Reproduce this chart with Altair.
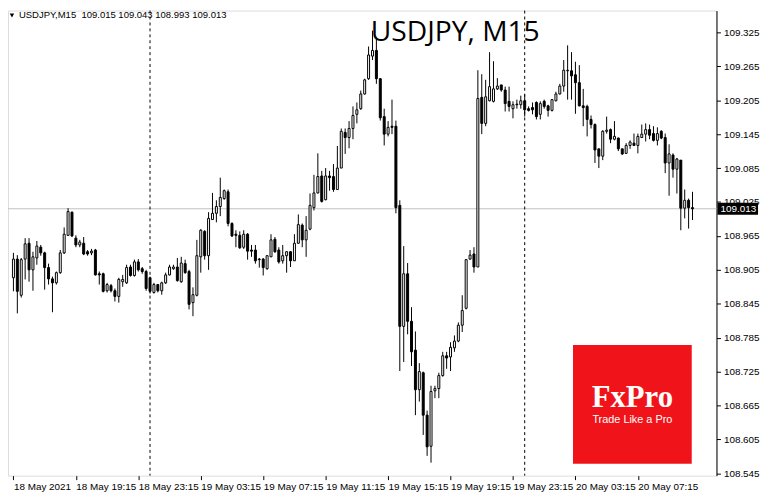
import json
import altair as alt
import pandas as pd

# ---- data: USDJPY M15 candles ----
opens = [108.891, 108.924, 108.860, 108.924, 108.952, 108.905, 108.926, 108.945, 108.935, 108.909,
         108.889, 108.882, 108.900, 108.935, 108.966, 109.007, 108.961, 108.949, 108.952, 108.937,
         108.935, 108.940, 108.898, 108.898, 108.868, 108.877, 108.868, 108.858, 108.884, 108.882,
         108.910, 108.895, 108.919, 108.907, 108.902, 108.891, 108.865, 108.879, 108.868, 108.882,
         108.896, 108.907, 108.910, 108.884, 108.916, 108.902, 108.847, 108.860, 108.928, 108.973,
         108.930, 108.994, 109.005, 109.017, 109.031, 109.043, 108.987, 108.968, 108.966, 108.945,
         108.968, 108.940, 108.940, 108.924, 108.924, 108.907, 108.928, 108.959, 108.940, 108.921,
         108.930, 108.937, 108.921, 108.952, 108.984, 108.958, 108.977, 109.015, 109.041, 109.071,
         109.029, 109.071, 109.070, 109.047, 109.085, 109.148, 109.139, 109.155, 109.180, 109.190,
         109.216, 109.243, 109.283, 109.293, 109.243, 109.176, 109.145, 109.159, 109.159, 109.019,
         108.805, 108.898, 108.814, 108.763, 108.693, 108.723, 108.648, 108.593, 108.691, 108.695,
         108.718, 108.753, 108.751, 108.767, 108.779, 108.807, 108.837, 108.924, 108.933, 108.910,
         109.210, 109.164, 109.204, 109.203, 109.225, 109.232, 109.223, 109.203, 109.190, 109.198,
         109.197, 109.204, 109.190, 109.192, 109.201, 109.180, 109.203, 109.195, 109.187, 109.204,
         109.216, 109.230, 109.257, 109.257, 109.250, 109.236, 109.195, 109.194, 109.171, 109.162,
         109.119, 109.106, 109.150, 109.153, 109.136, 109.138, 109.119, 109.111, 109.125, 109.129,
         109.125, 109.139, 109.145, 109.153, 109.146, 109.134, 109.150, 109.139, 109.094, 109.108,
         109.083, 109.099, 109.014, 109.028, 109.015]
highs = [108.935, 108.931, 108.926, 108.961, 108.961, 108.937, 108.956, 108.949, 108.937, 108.916,
         108.893, 108.902, 108.940, 108.980, 109.014, 109.008, 108.966, 108.958, 108.963, 108.940,
         108.942, 108.942, 108.902, 108.900, 108.882, 108.880, 108.872, 108.891, 108.896, 108.914,
         108.914, 108.923, 108.924, 108.910, 108.905, 108.893, 108.882, 108.880, 108.884, 108.900,
         108.914, 108.914, 108.926, 108.928, 108.923, 108.905, 108.874, 108.958, 108.977, 108.975,
         109.007, 109.041, 109.028, 109.068, 109.047, 109.047, 108.989, 108.975, 108.973, 108.975,
         108.970, 108.949, 108.949, 108.926, 108.926, 108.931, 108.968, 108.963, 108.945, 108.949,
         108.938, 108.938, 108.968, 109.003, 108.987, 109.000, 109.040, 109.073, 109.111, 109.080,
         109.085, 109.080, 109.092, 109.124, 109.155, 109.155, 109.168, 109.194, 109.201, 109.222,
         109.243, 109.300, 109.328, 109.316, 109.244, 109.190, 109.168, 109.206, 109.169, 109.028,
         108.947, 108.917, 108.839, 108.796, 108.740, 108.725, 108.656, 108.700, 108.700, 108.723,
         108.760, 108.760, 108.777, 108.789, 108.812, 108.860, 108.924, 108.940, 108.945, 109.258,
         109.251, 109.241, 109.290, 109.274, 109.244, 109.232, 109.229, 109.229, 109.203, 109.206,
         109.213, 109.215, 109.194, 109.201, 109.203, 109.203, 109.206, 109.197, 109.206, 109.220,
         109.234, 109.276, 109.302, 109.290, 109.273, 109.267, 109.225, 109.197, 109.178, 109.164,
         109.119, 109.152, 109.176, 109.155, 109.168, 109.139, 109.119, 109.129, 109.134, 109.146,
         109.146, 109.162, 109.164, 109.162, 109.159, 109.157, 109.152, 109.146, 109.127, 109.111,
         109.103, 109.099, 109.047, 109.031, 109.043]
lows = [108.867, 108.828, 108.856, 108.888, 108.884, 108.868, 108.914, 108.930, 108.870, 108.879,
        108.830, 108.879, 108.898, 108.933, 108.965, 108.963, 108.945, 108.945, 108.931, 108.930,
        108.931, 108.895, 108.879, 108.865, 108.865, 108.865, 108.849, 108.847, 108.875, 108.880,
        108.893, 108.893, 108.902, 108.898, 108.868, 108.863, 108.863, 108.865, 108.861, 108.880,
        108.895, 108.905, 108.884, 108.882, 108.898, 108.835, 108.823, 108.858, 108.900, 108.923,
        108.905, 108.993, 108.989, 109.000, 109.029, 108.982, 108.963, 108.945, 108.942, 108.942,
        108.923, 108.928, 108.916, 108.909, 108.895, 108.905, 108.928, 108.935, 108.916, 108.916,
        108.900, 108.910, 108.921, 108.951, 108.945, 108.928, 108.975, 109.010, 109.040, 109.024,
        109.028, 109.045, 109.043, 109.047, 109.085, 109.110, 109.120, 109.136, 109.164, 109.188,
        109.215, 109.241, 109.276, 109.234, 109.169, 109.125, 109.141, 109.145, 109.005, 108.726,
        108.742, 108.791, 108.735, 108.648, 108.672, 108.613, 108.576, 108.564, 108.678, 108.678,
        108.716, 108.730, 108.726, 108.760, 108.777, 108.795, 108.835, 108.923, 108.900, 108.910,
        109.145, 109.159, 109.203, 109.201, 109.223, 109.220, 109.185, 109.185, 109.173, 109.190,
        109.190, 109.176, 109.185, 109.180, 109.171, 109.171, 109.190, 109.176, 109.185, 109.203,
        109.215, 109.220, 109.206, 109.206, 109.181, 109.194, 109.159, 109.141, 109.155, 109.094,
        109.085, 109.099, 109.146, 109.129, 109.134, 109.115, 109.108, 109.110, 109.119, 109.124,
        109.111, 109.138, 109.132, 109.136, 109.132, 109.125, 109.136, 109.076, 109.036, 109.068,
        109.040, 108.975, 108.996, 108.978, 108.993]
closes = [108.924, 108.867, 108.923, 108.951, 108.905, 108.928, 108.947, 108.935, 108.909, 108.889,
          108.882, 108.900, 108.935, 108.968, 109.008, 108.965, 108.949, 108.954, 108.933, 108.933,
          108.938, 108.896, 108.896, 108.867, 108.879, 108.868, 108.858, 108.888, 108.888, 108.909,
          108.895, 108.919, 108.905, 108.902, 108.872, 108.867, 108.879, 108.868, 108.882, 108.896,
          108.910, 108.910, 108.886, 108.917, 108.900, 108.844, 108.861, 108.930, 108.975, 108.930,
          108.996, 109.005, 109.017, 109.033, 109.045, 108.987, 108.965, 108.966, 108.944, 108.968,
          108.938, 108.938, 108.921, 108.923, 108.909, 108.930, 108.958, 108.937, 108.919, 108.930,
          108.937, 108.921, 108.952, 108.985, 108.958, 108.975, 109.019, 109.041, 109.070, 109.026,
          109.071, 109.068, 109.047, 109.085, 109.150, 109.139, 109.155, 109.178, 109.188, 109.216,
          109.241, 109.285, 109.293, 109.243, 109.174, 109.145, 109.157, 109.157, 109.015, 108.805,
          108.898, 108.814, 108.760, 108.693, 108.725, 108.648, 108.592, 108.690, 108.695, 108.718,
          108.753, 108.749, 108.768, 108.779, 108.807, 108.833, 108.923, 108.931, 108.910, 109.208,
          109.164, 109.211, 109.229, 109.225, 109.230, 109.223, 109.199, 109.194, 109.197, 109.197,
          109.204, 109.188, 109.187, 109.188, 109.176, 109.199, 109.194, 109.187, 109.206, 109.216,
          109.230, 109.258, 109.258, 109.248, 109.236, 109.195, 109.192, 109.171, 109.162, 109.117,
          109.106, 109.150, 109.152, 109.136, 109.141, 109.119, 109.110, 109.125, 109.131, 109.125,
          109.141, 109.145, 109.153, 109.143, 109.134, 109.146, 109.138, 109.094, 109.110, 109.083,
          109.101, 109.014, 109.028, 109.015, 109.013]

tick_bars = [0, 16, 32, 48, 64, 80, 96, 112, 128, 144, 160]
tick_labels = ["18 May 2021", "18 May 19:15", "18 May 23:15", "19 May 03:15", "19 May 07:15",
               "19 May 11:15", "19 May 15:15", "19 May 19:15", "19 May 23:15", "20 May 03:15",
               "20 May 07:15"]
day_break_bars = [35, 131]
price_ticks = [108.545, 108.605, 108.665, 108.725, 108.785, 108.845, 108.905, 108.965,
               109.025, 109.085, 109.145, 109.205, 109.265, 109.325]
symbol = "USDJPY"
timeframe = "M15"

# ---- layout ----
W, H = 716, 470
FONT = "Liberation Sans"

df = pd.DataFrame({"bar": list(range(len(opens))), "open": opens, "high": highs,
                   "low": lows, "close": closes})
df["dir"] = ["up" if c >= o else "down" for o, c in zip(opens, closes)]

x_scale = alt.Scale(domain=[-0.125, 178.875], nice=False, zero=False)
y_scale = alt.Scale(domain=[108.541, 109.3635], nice=False, zero=False)

label_expr = json.dumps(tick_labels) + "[round(datum.value / 16)]"
x_axis = alt.Axis(values=tick_bars, labelExpr=label_expr, labelAlign="left", labelBaseline="top",
                  labelPadding=2, tickSize=4, tickColor="black", domain=False, grid=False,
                  labelFont=FONT, labelFontSize=10, labelColor="black", title=None,
                  labelOverlap=False, labelFlush=False, labelBound=False)
y_axis = alt.Axis(orient="right", values=price_ticks, format=".3f", tickSize=4, labelPadding=3,
                  domainColor="black", tickColor="black", labelColor="black", grid=False,
                  title=None, labelFont=FONT, labelFontSize=10, labelOverlap=False,
                  labelBound=False, labelFlush=False)


def xq(field="bar"):
    return alt.X(f"{field}:Q", scale=x_scale, axis=x_axis)


def yq(field):
    return alt.Y(f"{field}:Q", scale=y_scale, axis=y_axis)


last = df.iloc[-1]
last_df = pd.DataFrame({"p": [last["close"]], "label": [f"{last['close']:.3f}"]})

price_line = alt.Chart(last_df).mark_rule(color="#c0c0c0", strokeWidth=1).encode(y=yq("p"))

breaks = alt.Chart(pd.DataFrame({"bar": day_break_bars})).mark_rule(
    color="black", strokeDash=[3, 3], strokeWidth=1).encode(x=xq())

wicks = alt.Chart(df).mark_rule(color="black", strokeWidth=1).encode(
    x=xq(), y=yq("low"), y2="high:Q")

bodies = alt.Chart(df).mark_bar(width=2, stroke="black", strokeWidth=1).encode(
    x=xq(), y=yq("open"), y2="close:Q",
    fill=alt.Fill("dir:N", scale=alt.Scale(domain=["up", "down"], range=["white", "black"]),
                  legend=None))

price_box = alt.Chart(last_df).mark_rect(color="black", yOffset=-6, y2Offset=6).encode(
    x=alt.value(W + 1), x2=alt.value(W + 42), y=yq("p"), y2="p:Q")
price_txt = alt.Chart(last_df).mark_text(
    color="white", align="left", baseline="middle", font=FONT, fontSize=10, dy=0.5).encode(
    x=alt.value(W + 4), y=yq("p"), text="label:N")

header_str = (f"{symbol},{timeframe}\u00a0 {last['open']:.3f} {last['high']:.3f} "
              f"{last['low']:.3f} {last['close']:.3f}")
header_tri = alt.Chart(last_df).mark_point(
    shape="triangle-down", filled=True, color="black", size=20, opacity=1).encode(
    x=alt.value(4), y=alt.value(5))
header = alt.Chart(last_df).mark_text(
    align="left", baseline="alphabetic", font=FONT, fontSize=9.6, color="black").encode(
    x=alt.value(11), y=alt.value(8), text=alt.value(header_str))

title = alt.Chart(last_df).mark_text(
    align="center", baseline="alphabetic", font="Open Sans", fontSize=28.5, color="black").encode(
    x=alt.value(452), y=alt.value(31), text=alt.value(f"{symbol}, {timeframe}"))

logo_box = alt.Chart(last_df).mark_rect(color="#f0141a").encode(
    x=alt.value(571), x2=alt.value(691), y=alt.value(338), y2=alt.value(458))
logo_name = alt.Chart(last_df).mark_text(
    align="center", baseline="alphabetic", font="Liberation Serif", fontWeight="bold",
    fontSize=31, color="white").encode(x=alt.value(631), y=alt.value(401), text=alt.value("FxPro"))
logo_tag = alt.Chart(last_df).mark_text(
    align="center", baseline="alphabetic", font=FONT, fontSize=11, color="white").encode(
    x=alt.value(631), y=alt.value(417), text=alt.value("Trade Like a Pro"))

chart = alt.layer(
    price_line, breaks, logo_box, logo_name, logo_tag, wicks, bodies, title,
    header_tri, header, price_box, price_txt
).properties(
    width=W, height=H,
    autosize=alt.AutoSizeParams(type="none"),
    padding={"left": 0, "top": 0, "right": 46, "bottom": 22},
).configure_view(
    stroke="black", strokeWidth=1
).configure_axis(
    labelOverlap=False
).configure(background="white")

chart.save("out.html", embed_options={"renderer": "svg", "actions": False})
